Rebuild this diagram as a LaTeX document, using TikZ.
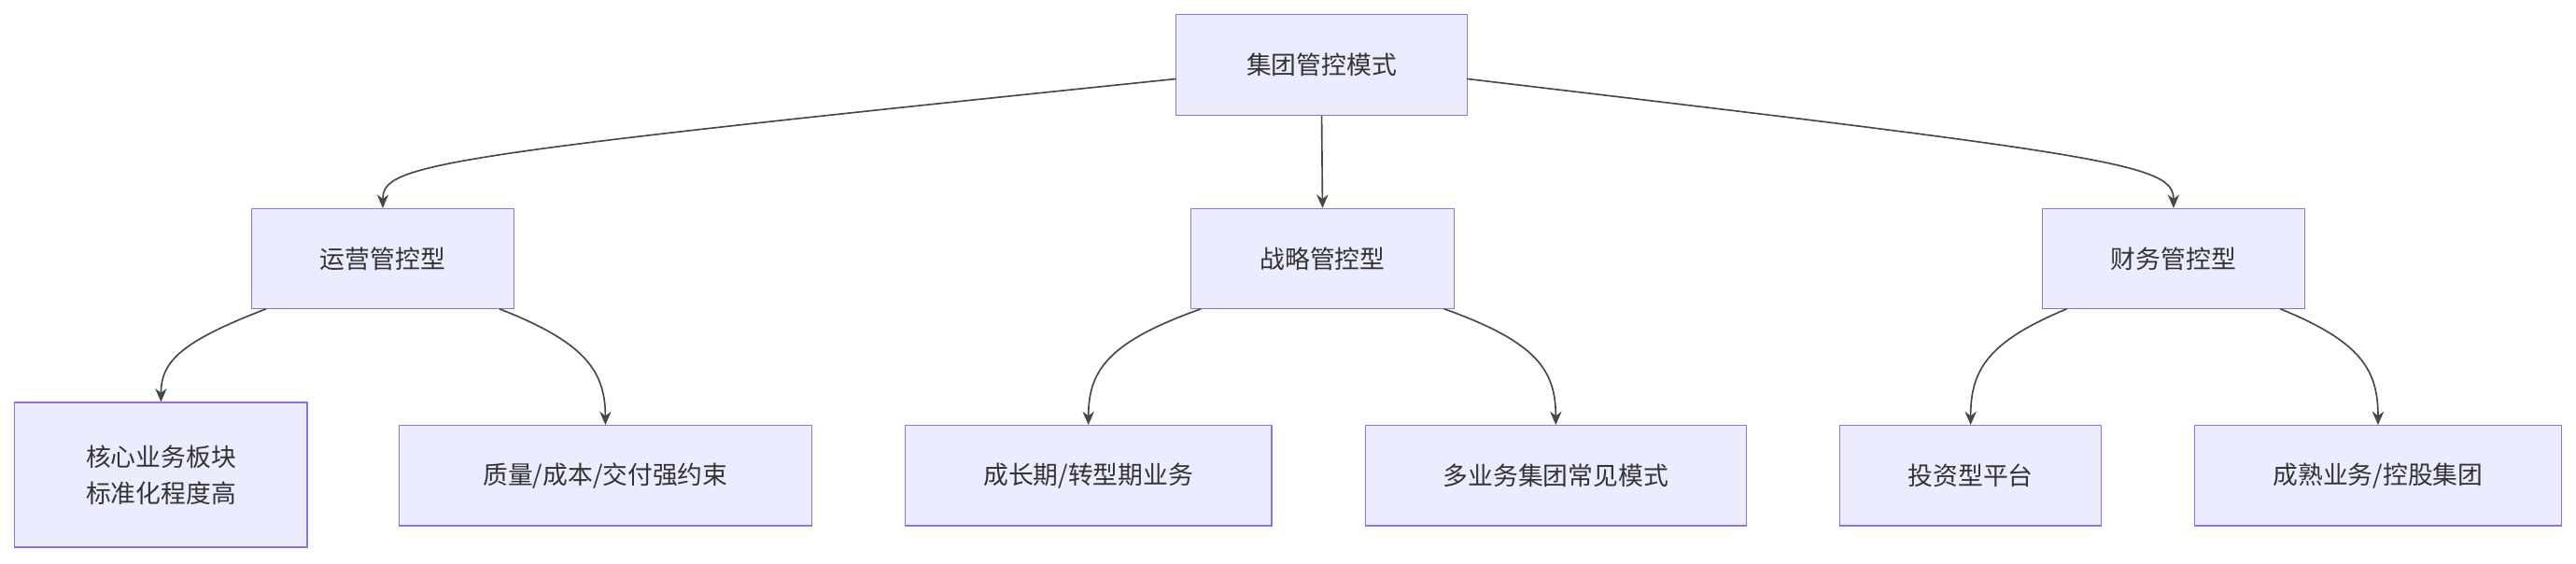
\documentclass[tikz,border=0pt]{standalone}
\usepackage{fontspec}
\setmainfont{Noto Sans CJK SC}
\usetikzlibrary{arrows.meta}
\definecolor{boxfill}{HTML}{ECECFF}
\definecolor{boxline}{HTML}{9370DB}
\definecolor{txt}{HTML}{333333}
\begin{document}
\begin{tikzpicture}[x=0.03cm,y=-0.03cm,
  box/.style={draw=boxline,fill=boxfill,line width=0.6pt,text=txt,inner sep=0pt,minimum height=1.83cm,align=center,font=\fontsize{13}{19}\selectfont},
  edge/.style={draw=txt!90,line width=0.8pt,-{Stealth[length=7pt,width=6pt]}}]
\useasboundingbox[fill=white] (0,0) rectangle (1568,343);
\node[box,minimum width=5.31cm] (top) at (804.5,39.5) {集团管控模式};
\node[box,minimum width=4.8cm] (a) at (233,157.5) {运营管控型};
\node[box,minimum width=4.8cm] (b) at (805,157.5) {战略管控型};
\node[box,minimum width=4.8cm] (c) at (1323,157.5) {财务管控型};
\node[box,minimum width=5.34cm,minimum height=2.64cm] (a1) at (98,289) {核心业务板块\\标准化程度高};
\node[box,minimum width=7.53cm] (a2) at (368.5,289.5) {质量/成本/交付强约束};
\node[box,minimum width=6.69cm] (b1) at (662.5,289.5) {成长期/转型期业务};
\node[box,minimum width=6.96cm] (b2) at (947,289.5) {多业务集团常见模式};
\node[box,minimum width=4.77cm] (c1) at (1199.5,289.5) {投资型平台};
\node[box,minimum width=6.69cm] (c2) at (1447.5,289.5) {成熟业务/控股集团};
\coordinate (t1) at (716,48); \coordinate (t2) at (893,48);
\draw[edge] (t1) .. controls (260,95) and (233,100) .. (a.north);
\draw[edge] (top.south) -- (b.north);
\draw[edge] (t2) .. controls (1290,95) and (1323,100) .. (c.north);
\draw[edge] (162,188) .. controls (110,208) and (98,220) .. (a1.north);
\draw[edge] (304,188) .. controls (355,208) and (368.5,225) .. (a2.north);
\draw[edge] (731,188) .. controls (675,208) and (662.5,225) .. (b1.north);
\draw[edge] (879,188) .. controls (935,208) and (947,225) .. (b2.north);
\draw[edge] (1258,188) .. controls (1210,208) and (1199.5,225) .. (c1.north);
\draw[edge] (1388,188) .. controls (1437,208) and (1447.5,225) .. (c2.north);
\end{tikzpicture}
\end{document}
